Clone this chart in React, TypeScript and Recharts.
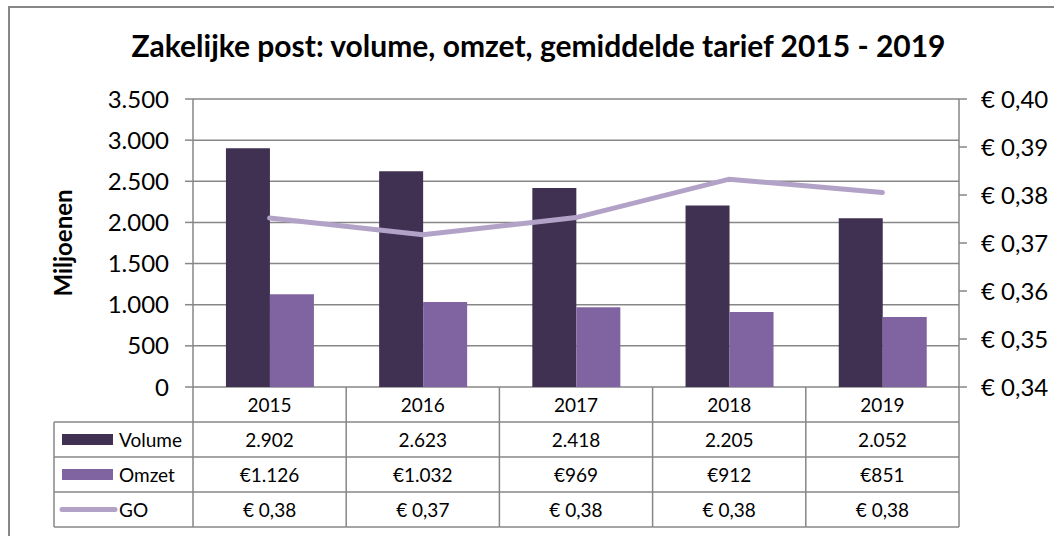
import React from 'react';
import { ComposedChart, Bar, Line, XAxis, YAxis, CartesianGrid } from 'recharts';

const years = ['2015', '2016', '2017', '2018', '2019'];
const volume = [2902, 2623, 2418, 2205, 2052];
const omzet = [1126, 1032, 969, 912, 851];
const go = [0.3752, 0.3717, 0.3753, 0.3833, 0.3805];
const leftTicks = [0, 500, 1000, 1500, 2000, 2500, 3000, 3500];
const rightTicks = [0.34, 0.35, 0.36, 0.37, 0.38, 0.39, 0.4];
const seriesNames = ['Volume', 'Omzet', 'GO'];

const COLORS = { volume: '#403152', omzet: '#8064A2', go: '#B3A2C7', grid: '#878787' };
const FONT = 'Lato, "Open Sans", sans-serif';

const W = 1054;
const H = 536;
const LEFT_W = 193;
const RIGHT_W = 95;
const TOP = 99;
const XAXIS_H = 149;
const PLOT_W = W - LEFT_W - RIGHT_W;
const BAND = PLOT_W / years.length;
const ROW = 35;
const LEGEND_COL = 139;
const TABLE_FS = 19;

const thousands = (n: number) => String(n).replace(/\B(?=(\d{3})+(?!\d))/g, '.');
const euro2 = (v: number) => '€ ' + v.toFixed(2).replace('.', ',');

const data = years.map((y, i) => ({ year: y, volume: volume[i], omzet: omzet[i], go: go[i] }));
const rowValues = [
  volume.map((v) => thousands(v)),
  omzet.map((v) => '€' + thousands(v)),
  go.map((v) => euro2(v)),
];

const TableTick = (props: any) => {
  const { x, y, index } = props;
  const left = x - BAND / 2;
  const right = x + BAND / 2;
  const last = index === years.length - 1;
  const txt = { fontFamily: FONT, fontSize: TABLE_FS, fill: '#000', textAnchor: 'middle' as const, dominantBaseline: 'central' as const };
  const ln = { stroke: COLORS.grid, strokeWidth: 1.5 };
  return (
    <g>
      <text x={x} y={y + ROW / 2} {...txt}>{years[index]}</text>
      {rowValues.map((r, i) => (
        <text key={i} x={x} y={y + ROW * (i + 1) + ROW / 2} {...txt}>{r[index]}</text>
      ))}
      <line x1={left} x2={left} y1={y} y2={y + 4 * ROW} {...ln} />
      {last && <line x1={right} x2={right} y1={y} y2={y + 4 * ROW} {...ln} />}
      {[1, 2, 3, 4].map((k) => (
        <line key={k} x1={left} x2={right} y1={y + k * ROW} y2={y + k * ROW} {...ln} />
      ))}
      {index === 0 && (
        <g>
          <line x1={left - LEGEND_COL} x2={left - LEGEND_COL} y1={y + ROW} y2={y + 4 * ROW} {...ln} />
          {[1, 2, 3, 4].map((k) => (
            <line key={k} x1={left - LEGEND_COL} x2={left} y1={y + k * ROW} y2={y + k * ROW} {...ln} />
          ))}
          <rect x={left - LEGEND_COL + 8} y={y + ROW * 1.5 - 5.5} width={51} height={11} fill={COLORS.volume} />
          <rect x={left - LEGEND_COL + 8} y={y + ROW * 2.5 - 5.5} width={51} height={11} fill={COLORS.omzet} />
          <line x1={left - LEGEND_COL + 8} x2={left - LEGEND_COL + 61} y1={y + ROW * 3.5} y2={y + ROW * 3.5} stroke={COLORS.go} strokeWidth={5} strokeLinecap="round" />
          {seriesNames.map((s, i) => (
            <text key={s} x={left - LEGEND_COL + 65} y={y + ROW * (i + 1.5)} fontFamily={FONT} fontSize={TABLE_FS} fill="#000" dominantBaseline="central">{s}</text>
          ))}
        </g>
      )}
    </g>
  );
};

const YLabel = (props: any) => {
  const vb = props.viewBox || { x: 0, y: TOP, width: LEFT_W, height: H - TOP - XAXIS_H };
  const cx = 62;
  const cy = vb.y + vb.height / 2;
  return (
    <text x={cx} y={cy} transform={`rotate(-90, ${cx}, ${cy})`} textAnchor="middle" dominantBaseline="central" fontFamily={FONT} fontWeight="bold" fontSize={24} fill="#000">
      Miljoenen
    </text>
  );
};

export default function App() {
  return (
    <div style={{ position: 'absolute', left: 0, top: 0, width: W, height: H, background: '#fff' }}>
      <div style={{ position: 'absolute', left: 8, top: 6, width: W - 8, height: H - 6, borderLeft: `2px solid ${COLORS.grid}`, borderTop: `2px solid ${COLORS.grid}`, boxSizing: 'border-box' }} />
      <div style={{ position: 'absolute', left: 0, top: 27, width: 1077, textAlign: 'center', fontFamily: FONT, fontWeight: 'bold', fontSize: 30, color: '#000' }}>
        Zakelijke post: volume, omzet, gemiddelde tarief 2015 - 2019
      </div>
      <div style={{ position: 'absolute', left: 0, top: 0 }}>
        <ComposedChart width={W} height={H} data={data} margin={{ top: TOP, right: 0, bottom: 0, left: 0 }} barCategoryGap="21.5%" barGap={0}>
          <CartesianGrid yAxisId="left" vertical={false} stroke={COLORS.grid} strokeWidth={1.5} />
          <XAxis dataKey="year" height={XAXIS_H} axisLine={false} tickLine={false} tickSize={0} tickMargin={0} interval={0} tick={<TableTick />} />
          <YAxis yAxisId="left" orientation="left" width={LEFT_W} domain={[0, 3500]} ticks={leftTicks} interval={0}
            tickFormatter={(v: number) => thousands(v)} stroke={COLORS.grid} strokeWidth={1.5} tickSize={8} tickMargin={16}
            tick={{ fill: '#000', fontFamily: FONT, fontSize: 24 }} label={<YLabel />} />
          <YAxis yAxisId="right" orientation="right" width={RIGHT_W} domain={[0.34, 0.4]} ticks={rightTicks} interval={0}
            tickFormatter={(v: number) => euro2(v)} stroke={COLORS.grid} strokeWidth={1.5} tickSize={8} tickMargin={14}
            tick={{ fill: '#000', fontFamily: FONT, fontSize: 24 }} />
          <Bar yAxisId="left" dataKey="volume" fill={COLORS.volume} isAnimationActive={false} />
          <Bar yAxisId="left" dataKey="omzet" fill={COLORS.omzet} isAnimationActive={false} />
          <Line yAxisId="right" dataKey="go" stroke={COLORS.go} strokeWidth={5} strokeLinecap="round" dot={false} activeDot={false} isAnimationActive={false} />
        </ComposedChart>
      </div>
    </div>
  );
}
